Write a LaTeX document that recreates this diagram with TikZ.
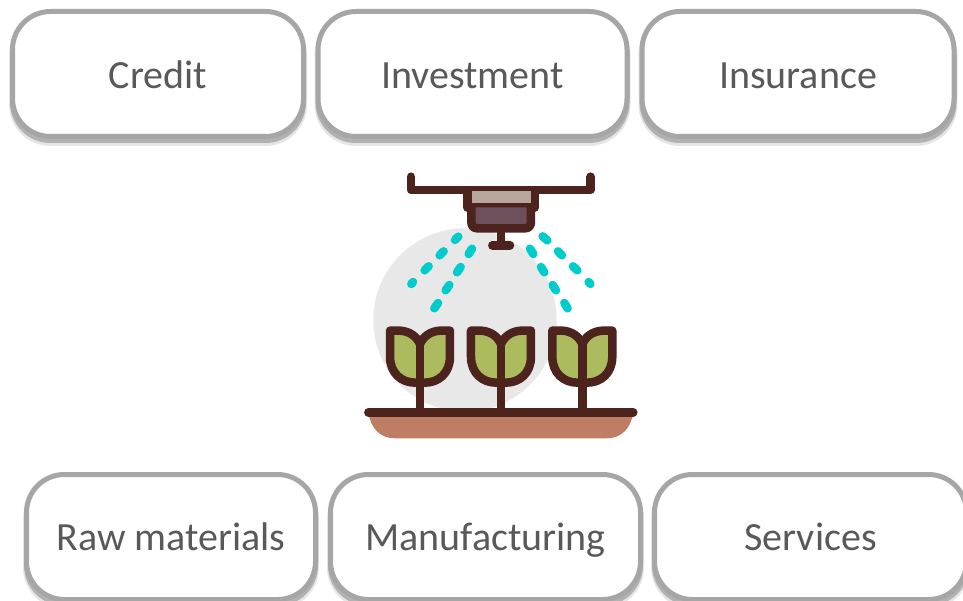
\documentclass[tikz,border=0pt]{standalone}
\usepackage{fontspec}
\setmainfont{Carlito}
\definecolor{boxline}{HTML}{A6A6A6}
\definecolor{boxtext}{HTML}{595959}
\definecolor{iconbrown}{HTML}{4C231D}
\definecolor{leafgreen}{HTML}{ABBB5D}
\definecolor{traybrown}{HTML}{BF7D63}
\definecolor{spray}{HTML}{00CCCC}
\definecolor{discgray}{HTML}{E8E8E8}
\definecolor{lighttop}{HTML}{B8A59C}
\definecolor{darkbody}{HTML}{6E4F5C}
\tikzset{
  card/.style={draw=boxline,line width=5pt,fill=white,rounded corners=38pt,inner sep=0pt,
    text=boxtext,font=\fontsize{40}{44}\selectfont,text height=34pt,text depth=8pt,
    preaction={draw=black,opacity=.10,line width=7pt,transform canvas={yshift=-6pt}},
    preaction={draw=black,opacity=.22,line width=5pt,transform canvas={yshift=-4pt}}},
  toprow/.style={text height=38pt},
  outline/.style={draw=iconbrown,line width=8.5pt,line cap=round,line join=round},
  drop/.style={draw=spray,line width=8.5pt,line cap=round},
}
\newcommand{\cardbox}[7][]{\node[card,#1,minimum width=#4 pt,minimum height=#5 pt] (#6) at (#2,#3) {#7};}
\newcommand{\tulip}[1]{%
  \begin{scope}[xshift=#1*0.3333pt]
    \draw[outline,fill=leafgreen] (120,512) -- (150,512) .. controls (180,514) and (200,530) .. (210,552)
      .. controls (220,530) and (240,514) .. (270,512) -- (300,512) -- (300,590)
      .. controls (300,640) and (265,668) .. (225,668) -- (195,668)
      .. controls (155,668) and (120,640) .. (120,590) -- cycle;
    \draw[outline] (210,552) -- (210,757);
  \end{scope}}
\begin{document}
\begin{tikzpicture}[x=1pt,y=-1pt]
\useasboundingbox (0,0) rectangle (963,601);
\clip (0,0) rectangle (963,601);
\fill[white] (0,0) rectangle (963,601);
\cardbox[toprow]{158}{74}{291}{125}{credit}{Credit}
\cardbox[toprow]{472.5}{74}{309}{125}{investment}{Investment}
\cardbox[toprow]{798}{74}{312}{125}{insurance}{Insurance}
\cardbox{171}{537}{289}{125}{raw}{Raw materials}
\cardbox{485.5}{537}{310}{125}{manufacturing}{Manufacturing}
\cardbox{810.5}{537}{312}{125}{services}{Services}
\begin{scope}[shift={(350,160)},x=0.3333pt,y=-0.3333pt]
  \fill[discgray] (345,480) circle (91.7pt);
  \fill[traybrown] (55,757) .. controls (62,805) and (90,835) .. (135,835) -- (770,835)
    .. controls (815,835) and (843,805) .. (850,757) -- cycle;
  \tulip{0}\tulip{243}\tulip{487}
  \draw[outline] (55,757) -- (850,757);
  \draw[outline] (183,50) -- (183,90) -- (722,90) -- (722,50);
  \draw[outline,fill=lighttop] (352,92) -- (352,142) -- (555,142) -- (555,92);
  \draw[outline,fill=darkbody] (364,142) -- (364,185) .. controls (364,198) and (370,205) .. (382,205)
    -- (525,205) .. controls (537,205) and (543,198) .. (543,185) -- (543,142);
  \draw[outline] (453,205) -- (453,255);
  \draw[outline] (427,256) -- (480,256);
  \foreach \ax/\ay/\bx/\by in {
    325/230/315/240, 281/274/269/286, 236/319/224/331, 189/366/184/372,
    366/266/356/282, 332/321/321/337, 298/375/287/391, 264/429/253/445,
    540/266/550/282, 573/321/583/337, 608/375/618/391, 643/429/653/445,
    578/229/592/241, 624/274/636/286, 669/319/682/331, 716/366/721/372}
    \draw[drop] (\ax,\ay) -- (\bx,\by);
\end{scope}
\end{tikzpicture}
\end{document}
